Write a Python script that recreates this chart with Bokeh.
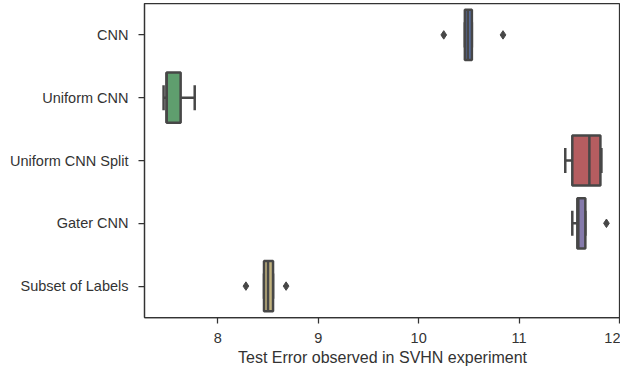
from bokeh.plotting import figure
from bokeh.models import Range1d, FactorRange, FixedTicker
from bokeh.embed import file_html
from bokeh.resources import INLINE

# ---- data ----
categories = ["CNN", "Uniform CNN", "Uniform CNN Split", "Gater CNN", "Subset of Labels"]
q1 = [10.46, 7.49, 11.53, 11.58, 8.46]
median = [10.49, 7.49, 11.70, 11.59, 8.50]
q3 = [10.53, 7.63, 11.81, 11.66, 8.55]
whisker_low = [10.46, 7.46, 11.46, 11.53, 8.46]
whisker_high = [10.53, 7.77, 11.82, 11.66, 8.55]
outlier_group = ["CNN", "CNN", "Gater CNN", "Subset of Labels", "Subset of Labels"]
outlier_value = [10.25, 10.84, 11.87, 8.28, 8.68]
x_ticks = [8, 9, 10, 11, 12]
colors = ["#5870A4", "#5F9E6E", "#B55D60", "#857AAB", "#C1B27E"]

EDGE = "#474747"
FONT = "Liberation Sans"

p = figure(width=620, height=369, output_backend="svg", toolbar_location=None,
           x_range=Range1d(7.27, 12.01),
           y_range=FactorRange(factors=list(reversed(categories)), range_padding=0),
           min_border_left=144, min_border_right=0, min_border_top=3, min_border_bottom=52)

# whiskers
p.segment(x0=whisker_low, x1=q1, y0=categories, y1=categories, line_color=EDGE, line_width=2.5)
p.segment(x0=q3, x1=whisker_high, y0=categories, y1=categories, line_color=EDGE, line_width=2.5)
# caps
cap_lo = [(c, -0.2) for c in categories]
cap_hi = [(c, 0.2) for c in categories]
p.segment(x0=whisker_low, x1=whisker_low, y0=cap_lo, y1=cap_hi, line_color=EDGE, line_width=2.5)
p.segment(x0=whisker_high, x1=whisker_high, y0=cap_lo, y1=cap_hi, line_color=EDGE, line_width=2.5)
# boxes
p.hbar(y=categories, left=q1, right=q3, height=0.8, fill_color=colors,
       line_color=EDGE, line_width=2.5)
# medians
med_lo = [(c, -0.4) for c in categories]
med_hi = [(c, 0.4) for c in categories]
p.segment(x0=median, x1=median, y0=med_lo, y1=med_hi, line_color=EDGE, line_width=2.5)
# outliers
p.scatter(x=outlier_value, y=outlier_group, marker="diamond", size=8.5,
          fill_color=EDGE, line_color=EDGE)

p.grid.visible = False
p.outline_line_color = "#333333"
p.outline_line_width = 1.25

p.xaxis.ticker = FixedTicker(ticks=x_ticks)
p.xaxis.axis_label = "Test Error observed in SVHN experiment"
for ax in (p.xaxis[0], p.yaxis[0]):
    ax.axis_line_color = "#333333"
    ax.axis_line_width = 1.25
    ax.major_tick_line_color = "#333333"
    ax.major_tick_line_width = 1.25
    ax.major_tick_out = 6
    ax.major_tick_in = 0
    ax.minor_tick_line_color = None
    ax.major_label_text_font = FONT
    ax.major_label_text_font_size = "14.5px"
    ax.major_label_text_color = "#333333"
p.xaxis.major_label_standoff = 9
p.yaxis.major_label_standoff = 10
p.xaxis.axis_label_text_font = FONT
p.xaxis.axis_label_text_font_size = "16px"
p.xaxis.axis_label_text_font_style = "normal"
p.xaxis.axis_label_text_color = "#333333"
p.xaxis.axis_label_standoff = 3

open("out.html", "w").write(file_html(p, INLINE))
